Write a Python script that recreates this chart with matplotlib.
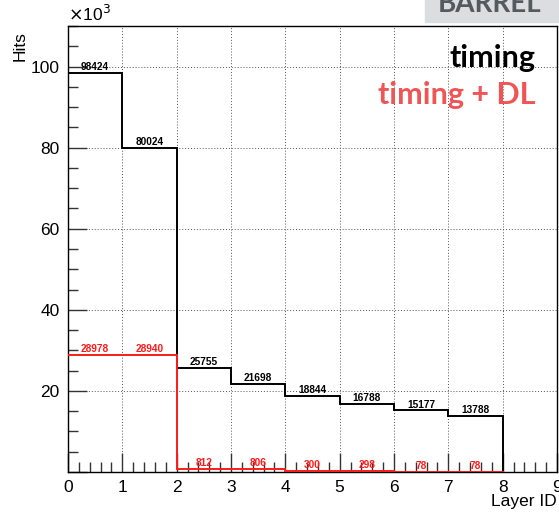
import numpy as np
import matplotlib.pyplot as plt
from matplotlib.ticker import MultipleLocator, FuncFormatter

layer_edges = np.arange(0, 9)
hits_timing = [98424, 80024, 25755, 21698, 18844, 16788, 15177, 13788]
hits_timing_dl = [28978, 28940, 812, 806, 300, 298, 78, 78]

plt.rcParams['font.family'] = ['Liberation Sans', 'DejaVu Sans']

fig = plt.figure(figsize=(5.59, 5.13), dpi=100)
ax = fig.add_axes([0.1216, 0.0799, 0.8748, 0.8694])


def draw_hist(values, color):
    # ROOT-like step outline dropping to zero at the last edge
    xs = np.repeat(layer_edges, 2)[1:-1]
    ys = np.repeat(values, 2)
    xs = np.concatenate([xs, [layer_edges[-1]]])
    ys = np.concatenate([ys, [0]])
    ax.plot(xs, ys, color=color, lw=1.4, solid_joinstyle='miter', zorder=3)
    for i, v in enumerate(values):
        ax.text(i + 0.5, v + 700, f'{v}', color=color, fontsize=7.3,
                fontweight='bold', ha='center', va='baseline', zorder=4)


draw_hist(hits_timing, 'black')
draw_hist(hits_timing_dl, '#ff1a1a')

ax.set_xlim(0, 9)
ax.set_ylim(0, 110000)
ax.xaxis.set_major_locator(MultipleLocator(1))
ax.xaxis.set_minor_locator(MultipleLocator(0.2))
ax.yaxis.set_major_locator(MultipleLocator(20000))
ax.yaxis.set_minor_locator(MultipleLocator(5000))
ax.yaxis.set_major_formatter(FuncFormatter(lambda v, p: '' if v == 0 else f'{v/1000:g}'))
ax.tick_params(which='both', direction='in', top=False, right=False,
               labelsize=12.5, color='#333333', width=1)
ax.tick_params(which='major', length=14, pad=6)
ax.tick_params(which='minor', length=7)
ax.grid(True, which='major', ls=(0, (1, 2)), lw=0.7, color='#555555')
ax.set_axisbelow(True)
for s in ax.spines.values():
    s.set_linewidth(1.0)

fig.text(0.1216, 0.953, r'$\times$10$^3$', fontsize=12.5, ha='left', va='bottom')
fig.text(0.022, 0.94, 'Hits', rotation=90, fontsize=12.5, ha='left', va='top')
fig.text(0.996, 0.008, 'Layer ID', fontsize=12.5, ha='right', va='bottom')

ax.text(0.957, 0.908, 'timing', transform=ax.transAxes, family='Lato',
        fontweight='bold', fontsize=22, ha='right', va='baseline', color='black')
ax.text(0.957, 0.825, 'timing + DL', transform=ax.transAxes, family='Lato',
        fontweight='bold', fontsize=22, ha='right', va='baseline', color='#f05555')

# label box in the top corner, partly cut by the figure edge
fig.patches.append(plt.Rectangle((425 / 559, 1 - 22 / 513), 133 / 559, 22 / 513 + 0.01,
                                 transform=fig.transFigure, color='#dcdde0', zorder=0))
fig.text(490 / 559, 1 - 12 / 513, 'BARREL', family='Lato', fontweight='bold',
         fontsize=20, color='#555a60', ha='center', va='baseline')

fig.savefig('out.png', dpi=100)
